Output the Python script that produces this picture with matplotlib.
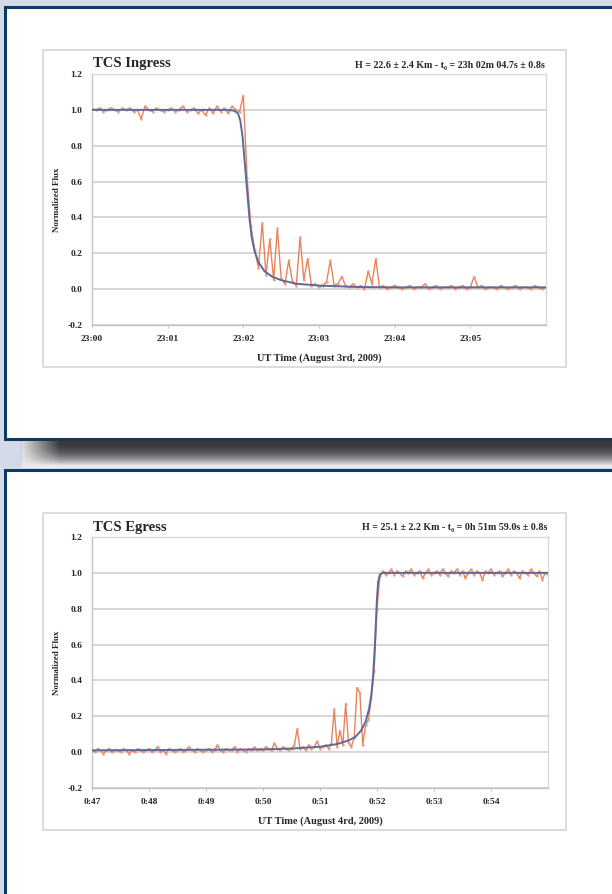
import matplotlib
matplotlib.use("Agg")
import matplotlib.pyplot as plt
import matplotlib.patches as patches
import numpy as np

W, H = 612, 894

# ---- data ----
# ingress: one sample every 3 s from 23:00:00
ingress_flux = [
    1.01, 1.00, 1.01, 0.99, 1.00, 1.01, 1.00, 0.99, 1.01, 1.00,
    1.01, 0.99, 1.00, 0.95, 1.02, 1.00, 0.99, 1.01, 1.00, 0.99,
    1.00, 1.01, 0.99, 1.00, 1.02, 0.99, 1.00, 1.01, 0.98, 1.00,
    0.97, 1.01, 0.98, 1.02, 0.99, 1.01, 0.98, 1.02, 1.00, 0.99,
    1.08, 0.62, 0.35, 0.22, 0.12, 0.37, 0.08, 0.28, 0.05, 0.34,
    0.06, 0.03, 0.16, 0.04, 0.02, 0.29, 0.05, 0.17, 0.02, 0.03,
    0.01, 0.02, 0.04, 0.16, 0.02, 0.03, 0.07, 0.02, 0.01, 0.03,
    0.01, 0.02, 0.00, 0.10, 0.03, 0.17, 0.01, 0.02, 0.00, 0.01,
    0.02, 0.01, 0.00, 0.01, 0.02, 0.00, 0.01, 0.01, 0.03, 0.00,
    0.01, 0.02, 0.00, 0.01, 0.01, 0.02, 0.00, 0.01, 0.02, 0.00,
    0.01, 0.07, 0.01, 0.02, 0.00, 0.01, 0.01, 0.00, 0.02, 0.01,
    0.00, 0.01, 0.02, 0.00, 0.01, 0.01, 0.00, 0.02, 0.01, 0.00, 0.01,
]
ingress_fit_t = [0, 1.80, 1.88, 1.93, 1.96, 1.99, 2.02, 2.05, 2.08, 2.11, 2.15,
                 2.20, 2.28, 2.38, 2.50, 2.70, 3.00, 3.50, 4.00, 6.00]
ingress_fit = [1.0, 1.0, 0.995, 0.98, 0.94, 0.85, 0.70, 0.55, 0.40, 0.29, 0.21,
               0.15, 0.10, 0.07, 0.05, 0.03, 0.02, 0.012, 0.01, 0.01]
ingress_ticks = ["23:00", "23:01", "23:02", "23:03", "23:04", "23:05"]

# egress: one sample every 3 s from 0:47:00
egress_flux = [
    0.01, 0.00, 0.02, 0.01, -0.01, 0.01, 0.02, 0.00, 0.01, 0.01,
    0.00, 0.02, 0.01, -0.01, 0.01, 0.00, 0.02, 0.01, 0.00, 0.01,
    0.02, 0.00, 0.01, 0.03, 0.00, 0.01, -0.01, 0.02, 0.01, 0.00,
    0.01, 0.02, 0.00, 0.01, 0.03, 0.01, 0.00, 0.02, 0.01, 0.00,
    0.01, 0.02, 0.00, 0.01, 0.04, 0.01, 0.00, 0.02, 0.01, 0.01,
    0.03, 0.00, 0.02, 0.01, 0.00, 0.02, 0.01, 0.03, 0.01, 0.02,
    0.01, 0.03, 0.02, 0.01, 0.05, 0.02, 0.01, 0.03, 0.02, 0.01,
    0.02, 0.04, 0.13, 0.02, 0.03, 0.01, 0.04, 0.02, 0.03, 0.06,
    0.02, 0.03, 0.04, 0.02, 0.05, 0.24, 0.03, 0.12, 0.04, 0.27,
    0.05, 0.03, 0.08, 0.36, 0.33, 0.04, 0.15, 0.18, 0.30, 0.45,
    0.80, 0.98, 1.01, 0.99, 1.00, 1.02, 0.99, 1.01, 1.00, 0.98,
    1.01, 1.00, 1.02, 0.99, 1.00, 1.01, 0.97, 1.00, 1.02, 0.99,
    1.00, 1.01, 0.99, 1.02, 1.00, 0.98, 1.01, 1.00, 1.02, 0.99,
    1.01, 0.97, 1.00, 1.02, 0.99, 1.01, 1.00, 0.96, 1.01, 1.00,
    1.02, 0.99, 1.00, 1.01, 0.98, 1.00, 1.02, 0.99, 1.01, 1.00,
    0.97, 1.01, 1.00, 0.99, 1.02, 1.00, 0.98, 1.01, 0.96, 1.00, 0.99,
]
egress_fit_t = [0, 3.0, 3.5, 4.0, 4.3, 4.5, 4.62, 4.72, 4.80, 4.86, 4.90, 4.93,
                4.96, 4.98, 5.00, 5.02, 5.05, 5.10, 8.0]
egress_fit = [0.01, 0.015, 0.02, 0.03, 0.045, 0.065, 0.085, 0.12, 0.17, 0.24,
              0.32, 0.42, 0.58, 0.72, 0.86, 0.95, 0.99, 1.0, 1.0]
egress_ticks = ["0:47", "0:48", "0:49", "0:50", "0:51", "0:52", "0:53", "0:54"]

yticks = [-0.2, 0.0, 0.2, 0.4, 0.6, 0.8, 1.0, 1.2]

BG = "#d4dae7"
BLUE = "#0c3a68"
DATA_C = "#ea825c"
FIT_C = "#5c6a98"
TXT = "#262626"
FONT = "Liberation Serif"

fig = plt.figure(figsize=(W / 100, H / 100), dpi=100)
fig.patch.set_facecolor(BG)


def rect(x0, y0, x1, y1):
    # pixel box (top-left origin) -> figure fraction
    return [x0 / W, 1 - y1 / H, (x1 - x0) / W, (y1 - y0) / H]


def fx(x):
    return x / W


def fy(y):
    return 1 - y / H


# panels (kept behind the axes)
for (y0, y1) in [(7, 439), (470, 900)]:
    fig.patches.append(patches.Rectangle((fx(5), fy(y1)), fx(620) - fx(5), fy(y0) - fy(y1),
                                         transform=fig.transFigure, facecolor="white",
                                         edgecolor=BLUE, lw=2.2, zorder=-2))

# light strip under the shadow
fig.patches.append(patches.Rectangle((fx(22), fy(468)), fx(612) - fx(22), fy(440) - fy(468),
                                     transform=fig.transFigure, facecolor="#ececee",
                                     edgecolor="none", zorder=-3))

# shadow under top panel
sh_ax = fig.add_axes(rect(18, 440, 612, 466))
sh_ax.axis("off")
ny, nx = 40, 400
s = np.linspace(0, 1, ny)[:, None]
vy = 1 - s ** 2.2
vx = np.clip(np.linspace(0, 1, nx)[None, :] / 0.07, 0, 1)
img = np.zeros((ny, nx, 4))
img[..., 0] = 0.21
img[..., 1] = 0.21
img[..., 2] = 0.23
img[..., 3] = vy * vx
sh_ax.imshow(img, aspect="auto", extent=(0, 1, 0, 1))
sh_ax.set_xlim(0, 1)
sh_ax.set_ylim(0, 1)


def chart(top, flux, fit_t, fit, ticks, nmin, title, info, xlabel, right):
    # light chart frame
    fig.patches.append(patches.Rectangle((fx(43), fy(top + 317)), fx(566) - fx(43), fy(top) - fy(top + 317),
                                         transform=fig.transFigure, facecolor="none",
                                         edgecolor="#d6d6d6", lw=1.2, zorder=-1))
    ax = fig.add_axes(rect(92, top + 24, right, top + 275))
    t = np.arange(len(flux)) * 3 / 60
    ax.set_xlim(0, nmin)
    ax.set_ylim(-0.2, 1.2)
    for v in yticks:
        ax.axhline(v, color="#cbcbcb", lw=1.1, zorder=0)
    ax.plot(t, flux, color=DATA_C, lw=1.0, marker="o", ms=1.3, mfc="#f0ab90",
            mec=DATA_C, mew=0.3, zorder=2)
    ax.plot(fit_t, fit, color=FIT_C, lw=1.4, zorder=3)
    ax.set_yticks(yticks)
    ax.set_yticklabels([f"{v:.1f}" for v in yticks])
    ax.set_xticks(range(len(ticks)))
    ax.set_xticklabels(ticks)
    for lab in ax.get_xticklabels() + ax.get_yticklabels():
        lab.set_fontfamily(FONT)
        lab.set_fontweight("bold")
        lab.set_fontsize(6.8)
        lab.set_color(TXT)
    ax.tick_params(axis="x", length=2, color="#cccccc", pad=5)
    ax.tick_params(axis="y", length=0, pad=7)
    for sp in ["left", "bottom"]:
        ax.spines[sp].set_color("#c4c4c4")
        ax.spines[sp].set_linewidth(1.0)
    for sp in ["top", "right"]:
        ax.spines[sp].set_color("#d8d8d8")
        ax.spines[sp].set_linewidth(1.0)
    ax.set_facecolor("none")

    fig.text(fx(93), fy(top + 14), title, fontfamily=FONT, fontweight="bold",
             fontsize=10.5, color=TXT, ha="left", va="center")
    fig.text(fx(right - 1), fy(top + 15), info, fontfamily=FONT, fontweight="bold",
             fontsize=7.2, color=TXT, ha="right", va="center")
    fig.text(fx(57), fy(top + 150), "Normalized Flux", fontfamily=FONT, fontweight="bold",
             fontsize=6.5, color=TXT, ha="center", va="center", rotation=90)
    fig.text(fx((92 + right) / 2), fy(top + 308), xlabel, fontfamily=FONT, fontweight="bold",
             fontsize=7.5, color=TXT, ha="center", va="center")
    return ax


chart(50, ingress_flux, ingress_fit_t, ingress_fit, ingress_ticks, 6,
      "TCS Ingress", "H = 22.6 ± 2.4 Km - t₀ = 23h 02m 04.7s ± 0.8s",
      "UT Time (August 3rd, 2009)", 546)
chart(513, egress_flux, egress_fit_t, egress_fit, egress_ticks, 8,
      "TCS Egress", "H = 25.1 ± 2.2 Km - t₀ = 0h 51m 59.0s ± 0.8s",
      "UT Time (August 4rd, 2009)", 548)

fig.savefig("out.png", dpi=100, facecolor=fig.get_facecolor())
